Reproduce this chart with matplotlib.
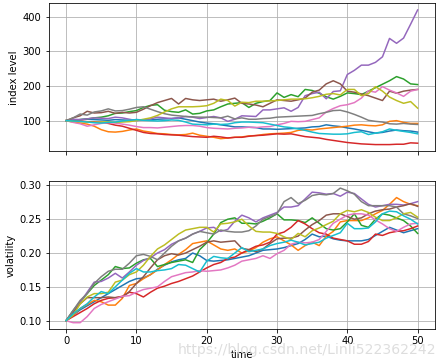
import numpy as np
import matplotlib
matplotlib.use('Agg')
from matplotlib import pyplot as plt

# time axis and the two simulated panels
t = np.arange(51)

# index level, one list per path (tab10 order)
lvl_blue = [100, 101, 103, 104, 103, 102, 101, 103, 102, 101, 103, 102, 102, 104, 105, 106, 108, 104, 100, 96,
            93, 91, 88, 85, 82, 82, 81, 80, 76, 76, 75, 76, 77, 78, 79, 82, 83, 88, 85, 83,
            79, 76, 72, 68, 64, 66, 70, 73, 71, 70, 67]
lvl_orange = [100, 96, 93, 90, 84, 74, 68, 67, 69, 73, 76, 70, 67, 63, 62, 60, 59, 60, 64, 58,
              55, 52, 48, 50, 52, 53, 56, 57, 60, 62, 63, 64, 66, 72, 74, 73, 76, 78, 80, 82,
              84, 87, 88, 86, 85, 88, 98, 100, 95, 92, 92]
lvl_green = [100, 101, 103, 105, 108, 110, 114, 121, 122, 126, 129, 138, 144, 146, 130, 126, 124, 131, 119, 121,
             128, 131, 140, 148, 150, 152, 138, 150, 155, 158, 180, 167, 175, 169, 190, 187, 179, 169, 162, 170,
             180, 178, 175, 185, 195, 205, 215, 227, 220, 206, 204]
lvl_red = [100, 98, 99, 97, 96, 95, 92, 87, 84, 78, 72, 66, 63, 62, 60, 59, 58, 56, 54, 53,
           52, 55, 53, 50, 52, 52, 55, 57, 58, 60, 62, 61, 62, 58, 54, 52, 50, 46, 43, 40,
           37, 35, 33, 32, 31, 31, 31, 32, 32, 36, 35]
lvl_purple = [100, 104, 103, 105, 108, 107, 106, 110, 108, 104, 100, 102, 105, 110, 108, 106, 108, 112, 110, 106,
              109, 112, 108, 98, 104, 114, 113, 112, 131, 131, 134, 137, 127, 138, 172, 178, 182, 163, 184, 186,
              233, 245, 260, 260, 268, 284, 337, 323, 338, 378, 419]
lvl_brown = [100, 108, 114, 127, 122, 123, 127, 121, 124, 122, 124, 133, 143, 152, 158, 164, 148, 164, 160, 158,
             160, 162, 156, 160, 165, 150, 148, 145, 140, 150, 160, 158, 156, 160, 165, 182, 188, 206, 215, 206,
             185, 182, 177, 172, 165, 158, 185, 179, 185, 188, 190]
lvl_pink = [100, 95, 91, 84, 88, 92, 94, 93, 90, 87, 83, 80, 80, 79, 81, 83, 85, 86, 86, 84,
            80, 78, 77, 76, 78, 79, 81, 80, 82, 83, 88, 92, 98, 97, 98, 103, 108, 125, 135, 143,
            146, 152, 165, 186, 182, 198, 188, 180, 170, 185, 190]
lvl_gray = [100, 108, 119, 116, 125, 128, 134, 128, 129, 133, 138, 140, 133, 126, 120, 116, 114, 112, 111, 110,
            110, 109, 108, 113, 105, 108, 104, 104, 106, 107, 110, 111, 112, 113, 114, 115, 120, 124, 129, 130,
            125, 118, 110, 101, 98, 96, 91, 90, 92, 90, 89]
lvl_olive = [100, 98, 97, 96, 95, 96, 97, 95, 96, 97, 100, 104, 108, 115, 125, 134, 140, 140, 140, 141,
             143, 150, 162, 158, 142, 153, 152, 156, 156, 157, 158, 160, 162, 162, 163, 166, 170, 176, 178, 174,
             190, 190, 172, 178, 198, 185, 168, 158, 150, 155, 136]
lvl_cyan = [100, 99, 98, 96, 94, 93, 95, 96, 99, 101, 103, 101, 100, 99, 100, 102, 101, 96, 90, 89,
            88, 90, 89, 90, 94, 96, 96, 95, 94, 90, 86, 82, 80, 76, 72, 67, 63, 62, 61, 61,
            62, 66, 68, 60, 64, 68, 76, 72, 69, 66, 62]

# volatility, same order
vol_blue = [.100, .108, .116, .122, .128, .134, .140, .146, .152, .158, .162, .163, .168, .176, .182, .187, .190, .192, .200, .196,
            .189, .188, .189, .190, .192, .194, .196, .200, .204, .205, .206, .208, .211, .214, .220, .228, .224, .225, .221, .219,
            .218, .218, .218, .220, .226, .232, .238, .234, .230, .233, .236]
vol_orange = [.100, .108, .118, .124, .130, .128, .123, .123, .133, .152, .155, .162, .168, .175, .183, .190, .198, .205, .214, .216,
              .218, .212, .206, .204, .206, .200, .203, .208, .216, .221, .224, .218, .212, .204, .211, .216, .211, .225, .232, .246,
              .248, .248, .248, .252, .258, .263, .272, .282, .276, .272, .270]
vol_green = [.100, .115, .128, .140, .152, .160, .168, .180, .177, .178, .185, .190, .192, .180, .183, .186, .188, .190, .186, .205,
             .215, .228, .245, .250, .252, .244, .244, .243, .247, .252, .258, .249, .249, .248, .245, .252, .244, .236, .234, .236,
             .246, .258, .241, .238, .250, .258, .256, .252, .248, .240, .229]
vol_red = [.100, .106, .112, .118, .125, .130, .133, .134, .136, .142, .140, .135, .142, .148, .151, .155, .158, .162, .166, .172,
           .178, .183, .186, .192, .194, .200, .205, .210, .212, .216, .228, .231, .238, .248, .243, .236, .230, .228, .222, .220,
           .218, .213, .213, .217, .228, .226, .230, .232, .233, .236, .240]
vol_purple = [.100, .114, .127, .142, .157, .158, .163, .170, .163, .172, .182, .189, .193, .200, .205, .213, .218, .222, .228, .232,
              .237, .238, .232, .235, .247, .256, .252, .246, .252, .256, .260, .268, .268, .270, .280, .290, .289, .287, .288, .284,
              .290, .288, .280, .272, .268, .270, .272, .272, .271, .273, .276]
vol_brown = [.100, .112, .125, .134, .134, .134, .135, .134, .135, .143, .155, .165, .178, .190, .196, .199, .197, .200, .205, .210,
             .216, .218, .216, .217, .218, .207, .205, .202, .206, .214, .221, .222, .222, .225, .234, .242, .248, .256, .258, .258,
             .254, .250, .252, .258, .262, .264, .265, .268, .270, .273, .269]
vol_pink = [.100, .097, .097, .106, .118, .124, .128, .132, .136, .137, .142, .146, .148, .150, .158, .165, .168, .171, .172, .174,
            .173, .174, .175, .178, .182, .188, .190, .192, .196, .192, .199, .204, .213, .216, .215, .216, .220, .232, .244, .250,
            .256, .258, .258, .256, .249, .243, .236, .232, .238, .243, .244]
vol_gray = [.100, .115, .130, .140, .155, .165, .173, .176, .176, .185, .196, .198, .195, .190, .200, .210, .218, .222, .228, .232,
            .230, .228, .234, .232, .231, .231, .233, .240, .250, .254, .258, .276, .282, .273, .278, .285, .287, .286, .288, .296,
            .292, .287, .276, .270, .270, .270, .270, .268, .258, .255, .251]
vol_olive = [.100, .108, .125, .135, .140, .140, .142, .157, .160, .168, .172, .182, .195, .206, .212, .220, .228, .234, .236, .238,
             .238, .231, .243, .244, .246, .250, .240, .232, .231, .231, .229, .224, .220, .229, .224, .233, .237, .242, .247, .258,
             .263, .261, .264, .260, .253, .248, .248, .252, .258, .260, .253]
vol_cyan = [.100, .110, .118, .125, .135, .143, .140, .150, .160, .170, .177, .172, .172, .174, .175, .177, .183, .182, .177, .172,
            .188, .195, .193, .192, .200, .208, .202, .204, .206, .211, .214, .216, .219, .216, .212, .214, .216, .222, .226, .230,
            .244, .236, .236, .237, .246, .258, .262, .261, .255, .250, .243]

levels = [lvl_blue, lvl_orange, lvl_green, lvl_red, lvl_purple,
          lvl_brown, lvl_pink, lvl_gray, lvl_olive, lvl_cyan]
vols = [vol_blue, vol_orange, vol_green, vol_red, vol_purple,
        vol_brown, vol_pink, vol_gray, vol_olive, vol_cyan]

plt.rcParams['font.size'] = 10
fig, (ax1, ax2) = plt.subplots(2, 1, sharex=True, figsize=(445 / 72, 362 / 72), dpi=72)

for s in levels:
    ax1.plot(t, s)
ax1.set_ylabel('index level')
ax1.grid(True)

for s in vols:
    ax2.plot(t, s)
ax2.set_xlabel('time')
ax2.set_ylabel('volatility')
ax2.grid(True)

plt.subplots_adjust(left=0.109, right=0.978, top=0.991, bottom=0.090, hspace=0.203)

# blog watermark
fig.text(0.400, 0.022, 'https://blog.csdn.net/Linli522362242', fontsize=14,
         color='#d8d8d8', alpha=0.85)

plt.savefig('out.png', dpi=72)
